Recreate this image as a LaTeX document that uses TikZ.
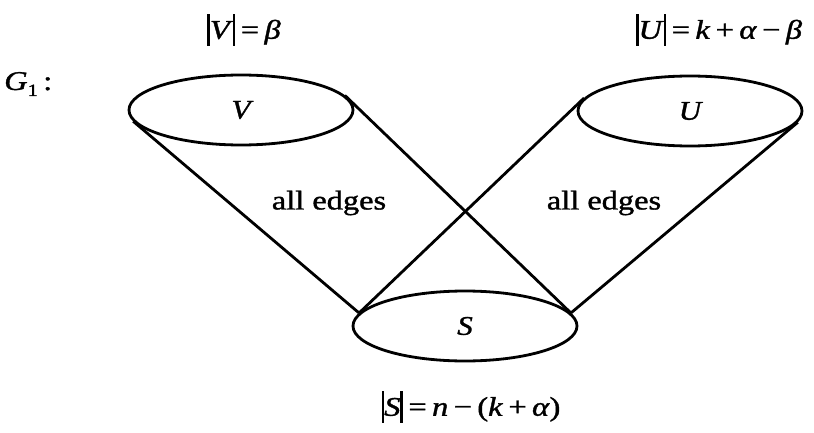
\documentclass[tikz,border=0pt]{standalone}
\usepackage{fontspec}
\setmainfont{Liberation Serif}
\newfontfamily\heavy{Liberation Serif}[FakeBold=1.2]
\usetikzlibrary{shapes.geometric}
\newcommand{\vb}{\rule[-0.25em]{0.08em}{1.15em}}
\begin{document}
\begin{tikzpicture}[x=1pt,y=-1pt,
  setnode/.style={draw,ellipse,line width=2.8pt,minimum width=224pt,minimum height=70pt,inner sep=0pt},
  setname/.style={font=\heavy\fontsize{27}{32}\selectfont\itshape,inner sep=0pt,xscale=1.15,transform shape},
  edgeline/.style={line width=2.8pt},
  lbl/.style={font=\heavy\fontsize{27}{32}\selectfont,inner sep=0pt,xscale=1.2,transform shape}]
\useasboundingbox (0,0) rectangle (814,433);
\node[setnode] (V) at (241,110) {};
\node[setnode] (U) at (690,111) {};
\node[setnode] (S) at (465,326) {};
\node[setname] (Vn) at (V.center) {V};
\node[setname] (Un) at (U.center) {U};
\node[setname] (Sn) at (S.center) {S};
\draw[edgeline] (V.186) -- (S.173);
\draw[edgeline] (V.8) -- (S.7);
\draw[edgeline] (S.173) -- (U.173);
\draw[edgeline] (S.7) -- (U.354);
\node[lbl] (e1) at (329,203) {all edges};
\node[lbl] (e2) at (604,203) {all edges};
\node[lbl,anchor=west] (g1) at (4,84) {\textit{G}\raisebox{-0.22em}{\fontsize{17}{20}\selectfont 1}\,:};
\node[lbl] (lv) at (244,30) {\vb\textit{V}\vb\,=\,\textit{β}};
\node[lbl] (lu) at (719,30) {\vb\textit{U}\vb\,=\,\textit{k}\,+\,\textit{α}\,−\,\textit{β}};
\node[lbl] (ls) at (471,407) {\vb\textit{S}\vb\,=\,\textit{n}\,−\,(\textit{k}\,+\,\textit{α})};
\end{tikzpicture}
\end{document}
